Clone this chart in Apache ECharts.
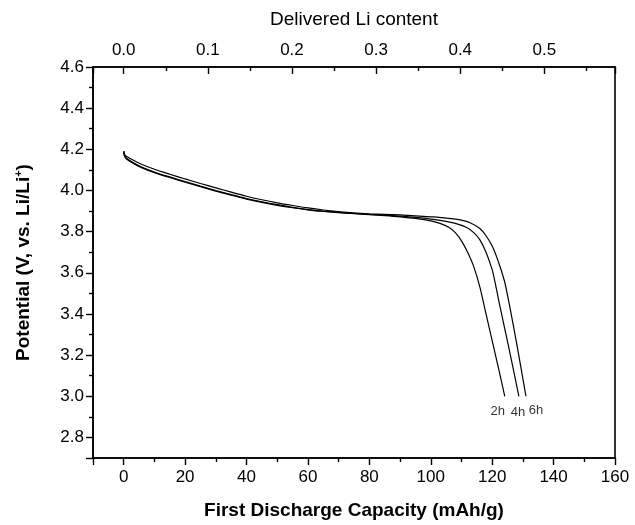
<!DOCTYPE html>
<html><head><meta charset="utf-8">
<script src="https://cdn.jsdelivr.net/npm/echarts@6/dist/echarts.min.js"></script>
<style>html,body{margin:0;padding:0;background:#fff}#c{width:635px;height:525px}</style>
</head><body><div id="c"></div>
<script>
const seriesNames = ['2h', '4h', '6h'];

const cap2h  = [0, 0.3, 1, 3, 6, 10, 15, 20, 25, 30, 35, 40, 45, 50, 55, 60, 65, 70, 75, 80, 85, 90, 95, 100, 103, 106, 108, 110, 112, 114, 116, 118, 120, 122, 124.1];
const volt2h = [4.19, 4.165, 4.152, 4.133, 4.11, 4.087, 4.063, 4.04, 4.018, 3.997, 3.977, 3.958, 3.942, 3.928, 3.916, 3.906, 3.898, 3.892, 3.887, 3.883, 3.878, 3.872, 3.864, 3.852, 3.84, 3.82, 3.795, 3.755, 3.7, 3.63, 3.53, 3.40, 3.27, 3.14, 3.0];

const cap4h  = [0, 0.3, 1, 3, 6, 10, 15, 20, 25, 30, 35, 40, 45, 50, 55, 60, 65, 70, 75, 80, 85, 90, 95, 100, 104, 108, 111.7, 114, 116, 118, 120, 121, 122, 124, 126, 128.7];
const volt4h = [4.19, 4.167, 4.155, 4.136, 4.113, 4.09, 4.066, 4.043, 4.021, 4.0, 3.98, 3.961, 3.945, 3.931, 3.918, 3.907, 3.899, 3.893, 3.888, 3.884, 3.88, 3.875, 3.869, 3.861, 3.852, 3.84, 3.82, 3.795, 3.76, 3.7, 3.615, 3.55, 3.475, 3.335, 3.195, 3.0];

const cap6h  = [0, 0.3, 1, 3, 6, 10, 15, 20, 25, 30, 35, 40, 45, 50, 55, 60, 65, 70, 75, 80, 85, 90, 95, 100, 105, 110, 113, 116, 118, 120, 122, 124, 125, 126, 128, 131];
const volt6h = [4.19, 4.175, 4.165, 4.148, 4.126, 4.103, 4.079, 4.056, 4.034, 4.013, 3.992, 3.972, 3.955, 3.94, 3.927, 3.915, 3.905, 3.897, 3.891, 3.887, 3.884, 3.881, 3.877, 3.872, 3.866, 3.856, 3.842, 3.815, 3.78, 3.73, 3.655, 3.56, 3.49, 3.415, 3.255, 3.0];

const capacityPerLi = 274; // mAh/g for one Li (top axis conversion)
const capMin = -10, capMax = 160;
const voltMin = 2.7, voltMax = 4.6;

const caps = [cap2h, cap4h, cap6h];
const volts = [volt2h, volt4h, volt6h];
const labelOffsets = [[-7, 15], [-1, 16], [10, 14]];

const FONT = '"Liberation Sans", Arial, sans-serif';
const chart = echarts.init(document.getElementById('c'), null, {renderer: 'canvas'});

const lineSeries = seriesNames.map((n, i) => ({
  name: n,
  type: 'line',
  xAxisIndex: 0,
  yAxisIndex: 0,
  smooth: 0.25,
  showSymbol: false,
  symbol: 'none',
  lineStyle: {color: '#000', width: 1.2},
  data: caps[i].map((c, k) => [c, volts[i][k]])
}));

const endLabels = {
  type: 'scatter',
  xAxisIndex: 0,
  yAxisIndex: 0,
  symbolSize: 0,
  silent: true,
  data: seriesNames.map((n, i) => ({
    value: [caps[i][caps[i].length - 1], volts[i][volts[i].length - 1]],
    name: n,
    label: {offset: labelOffsets[i]}
  })),
  label: {
    show: true,
    position: 'inside',
    formatter: p => p.name,
    color: '#000',
    fontFamily: FONT,
    fontSize: 13
  }
};

const axisCommon = {
  axisLine: {show: true, onZero: false, lineStyle: {color: '#000', width: 1.6}},
  splitLine: {show: false},
  axisLabel: {color: '#000', fontFamily: FONT, fontSize: 17, showMinLabel: false, showMaxLabel: true},
  nameTextStyle: {color: '#000', fontFamily: FONT}
};

chart.setOption({
  animation: false,
  backgroundColor: '#fff',
  grid: {left: 93, right: 20, top: 67, bottom: 65, show: true, borderColor: '#000', borderWidth: 1.6, containLabel: false},
  xAxis: [
    Object.assign({}, axisCommon, {
      type: 'value', position: 'bottom', min: capMin, max: capMax, splitNumber: 8,
      axisTick: {show: true, inside: false, length: 7, lineStyle: {color: '#000', width: 1.4}},
      minorTick: {show: true, splitNumber: 2, length: 4, lineStyle: {color: '#000', width: 1.4}},
      axisLabel: Object.assign({}, axisCommon.axisLabel, {margin: 11}),
      name: 'First Discharge Capacity (mAh/g)', nameLocation: 'middle', nameGap: 43,
      nameTextStyle: {color: '#000', fontFamily: FONT, fontSize: 19, fontWeight: 'bold'}
    }),
    Object.assign({}, axisCommon, {
      type: 'value', position: 'top', min: capMin / capacityPerLi, max: capMax / capacityPerLi, splitNumber: 6,
      axisTick: {show: true, inside: true, length: 7, lineStyle: {color: '#000', width: 1.4}},
      minorTick: {show: true, splitNumber: 2, length: 4, lineStyle: {color: '#000', width: 1.4}},
      axisLabel: Object.assign({}, axisCommon.axisLabel, {margin: 8, showMaxLabel: false, formatter: v => v.toFixed(1)}),
      name: 'Delivered Li content', nameLocation: 'middle', nameGap: 38,
      nameTextStyle: {color: '#000', fontFamily: FONT, fontSize: 19}
    })
  ],
  yAxis: [
    Object.assign({}, axisCommon, {
      type: 'value', min: voltMin, max: voltMax, splitNumber: 9,
      axisTick: {show: true, inside: false, length: 7, lineStyle: {color: '#000', width: 1.4}},
      minorTick: {show: true, splitNumber: 2, length: 4, lineStyle: {color: '#000', width: 1.4}},
      axisLabel: Object.assign({}, axisCommon.axisLabel, {margin: 9, formatter: v => v.toFixed(1)}),
      name: '{a|Potential (V, vs. Li/Li}{s|+}{a|)}', nameLocation: 'middle', nameGap: 58,
      nameTextStyle: {
        color: '#000', fontFamily: FONT,
        rich: {
          a: {fontFamily: FONT, fontSize: 19, fontWeight: 'bold', color: '#000', lineHeight: 22},
          s: {fontFamily: FONT, fontSize: 11, fontWeight: 'bold', color: '#000', lineHeight: 12, verticalAlign: 'top'}
        }
      }
    })
  ],
  series: lineSeries.concat([endLabels])
});
</script>
</body></html>
